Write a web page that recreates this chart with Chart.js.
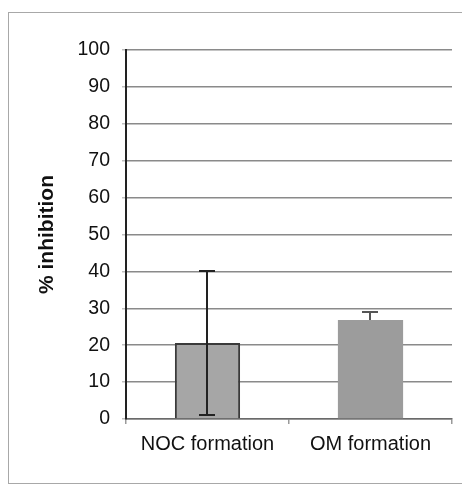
<!DOCTYPE html>
<html>
<head>
<meta charset="utf-8">
<script src="https://cdn.jsdelivr.net/npm/chart.js@4/dist/chart.umd.min.js"></script>
<style>
  html, body { margin: 0; padding: 0; background: #fff; }
  #wrap { position: relative; width: 462px; height: 486px; overflow: hidden; }
  #frame { position: absolute; left: 8px; top: 12px; width: 470px; height: 472px; border: 1.5px solid #a8a8a8; box-sizing: border-box; }
  canvas { position: absolute; left: 0; top: 0; }
</style>
</head>
<body>
<div id="wrap">
  <div id="frame"></div>
  <canvas id="chart" width="462" height="486"></canvas>
</div>
<script>
// Inhibition by process, mean with error
const categories = ['NOC formation', 'OM formation'];
const inhibition = [20.6, 26.8];
const errUp = [19.5, 2.2];
const errDown = [19.5, null];
const yTicks = [0, 10, 20, 30, 40, 50, 60, 70, 80, 90, 100];

const FONT = "'Liberation Sans', Arial, sans-serif";

// draws the error bars on top of the bars, using the y scale
const errorBars = {
  id: 'errorBars',
  afterDatasetsDraw(chart) {
    const { ctx, scales: { y } } = chart;
    const meta = chart.getDatasetMeta(0);
    const colors = ['#222', '#555'];
    ctx.save();
    ctx.lineWidth = 2;
    meta.data.forEach((bar, i) => {
      const x = Math.round(bar.x) - 1;
      const top = y.getPixelForValue(inhibition[i] + errUp[i]);
      const bottom = errDown[i] == null ? y.getPixelForValue(inhibition[i]) : y.getPixelForValue(inhibition[i] - errDown[i]);
      ctx.strokeStyle = colors[i];
      ctx.beginPath();
      ctx.moveTo(x, top);
      ctx.lineTo(x, bottom);
      ctx.moveTo(x - 8, top);
      ctx.lineTo(x + 8, top);
      if (errDown[i] != null) {
        ctx.moveTo(x - 8, bottom);
        ctx.lineTo(x + 8, bottom);
      }
      ctx.stroke();
    });
    ctx.restore();
  }
};

new Chart(document.getElementById('chart'), {
  type: 'bar',
  data: {
    labels: categories,
    datasets: [{
      data: inhibition,
      backgroundColor: ['#a6a6a6', '#9c9c9c'],
      borderColor: ['#3a3a3a', 'rgba(0,0,0,0)'],
      borderWidth: [2, 0],
      categoryPercentage: 1,
      barPercentage: 0.4,
    }],
  },
  options: {
    responsive: false,
    animation: false,
    layout: { padding: { top: 50, right: 10, left: 0, bottom: 0 } },
    plugins: { legend: { display: false }, tooltip: { enabled: false } },
    scales: {
      x: {
        afterFit(scale) { scale.height = 67; },
        grid: {
          drawOnChartArea: true,
          offset: true,
          color: (c) => c.index === categories.length ? '#8a8a8a' : 'rgba(0,0,0,0)',
          tickColor: '#9a9a9a',
          tickLength: 5,
          lineWidth: 1.5,
        },
        border: { color: '#6a6a6a', width: 1.5 },
        ticks: { color: '#111', padding: 8, font: { family: FONT, size: 20 } },
      },
      y: {
        min: yTicks[0],
        max: yTicks[yTicks.length - 1],
        afterFit(scale) { scale.width = 126; },
        afterBuildTicks(scale) { scale.ticks = yTicks.map(v => ({ value: v })); },
        grid: { color: '#8a8a8a', tickColor: '#c0c0c0', tickLength: 4, lineWidth: 1.5 },
        border: { color: '#222', width: 2 },
        ticks: { color: '#111', padding: 12, font: { family: FONT, size: 19.5 } },
        title: {
          display: true,
          text: '% inhibition',
          color: '#111',
          padding: { top: 35, bottom: 0 },
          font: { family: FONT, size: 21, weight: 'bold' },
        },
      },
    },
  },
  plugins: [errorBars],
});
</script>
</body>
</html>
